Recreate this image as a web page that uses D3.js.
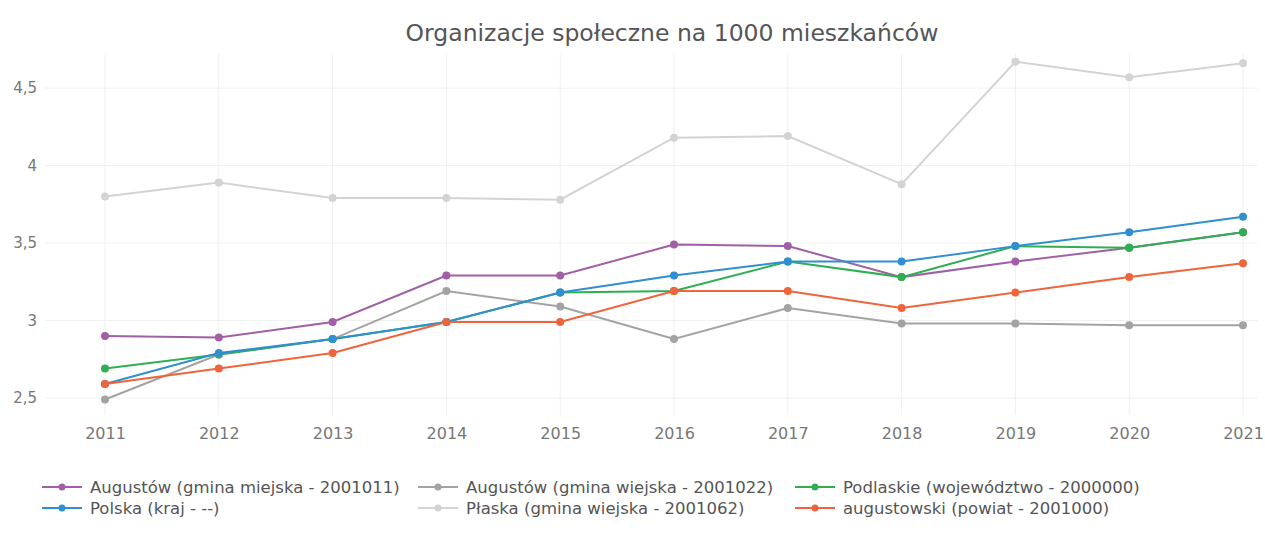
<!DOCTYPE html>
<html>
<head>
<meta charset="utf-8">
<script src="https://cdn.jsdelivr.net/npm/d3@7"></script>
<style>
  body { margin: 0; background: #fff; }
  svg { display: block; font-family: "DejaVu Sans", Verdana, sans-serif; }
</style>
</head>
<body>
<div class="chart"></div>
<script>
var years = [2011, 2012, 2013, 2014, 2015, 2016, 2017, 2018, 2019, 2020, 2021];
var yTicks = [2.5, 3, 3.5, 4, 4.5];

var augustowMiejska = [2.90, 2.89, 2.99, 3.29, 3.29, 3.49, 3.48, 3.28, 3.38, 3.47, 3.57];
var augustowWiejska = [2.49, 2.78, 2.88, 3.19, 3.09, 2.88, 3.08, 2.98, 2.98, 2.97, 2.97];
var podlaskie = [2.69, 2.78, 2.88, 2.99, 3.18, 3.19, 3.38, 3.28, 3.48, 3.47, 3.57];
var polska = [2.59, 2.79, 2.88, 2.99, 3.18, 3.29, 3.38, 3.38, 3.48, 3.57, 3.67];
var plaska = [3.80, 3.89, 3.79, 3.79, 3.78, 4.18, 4.19, 3.88, 4.67, 4.57, 4.66];
var augustowski = [2.59, 2.69, 2.79, 2.99, 2.99, 3.19, 3.19, 3.08, 3.18, 3.28, 3.37];

var seriesNames = [
  "Augustów (gmina miejska - 2001011)",
  "Augustów (gmina wiejska - 2001022)",
  "Podlaskie (województwo - 2000000)",
  "Polska (kraj - --)",
  "Płaska (gmina wiejska - 2001062)",
  "augustowski (powiat - 2001000)"
];
var seriesValues = [augustowMiejska, augustowWiejska, podlaskie, polska, plaska, augustowski];
var seriesColors = ["#a05fa6", "#a3a3a3", "#2fae52", "#2f8fd2", "#d3d3d3", "#f0643c"];

var svgWidth = 1265;
var svgHeight = 533;

var svg = d3.select(".chart")
  .append("svg")
  .attr("width", svgWidth)
  .attr("height", svgHeight);

var xScale = d3.scalePoint().domain(years).range([105, 1243]);
var yScale = d3.scaleLinear().domain([2.39, 4.72]).range([415, 54]);

// grid
var grid = svg.append("g");
grid.selectAll(".hgrid")
  .data(yTicks)
  .enter()
  .append("line")
  .attr("x1", 45)
  .attr("x2", 1258)
  .attr("y1", function(d) { return yScale(d); })
  .attr("y2", function(d) { return yScale(d); })
  .attr("stroke", "#f0f0f0")
  .attr("stroke-width", 1);

grid.selectAll(".vgrid")
  .data(years)
  .enter()
  .append("line")
  .attr("x1", function(d) { return xScale(d); })
  .attr("x2", function(d) { return xScale(d); })
  .attr("y1", 54)
  .attr("y2", 415)
  .attr("stroke", "#f0f0f0")
  .attr("stroke-width", 1);

// axes
var xAxis = d3.axisBottom(xScale).tickSize(0).tickPadding(0);
var yAxis = d3.axisLeft(yScale)
  .tickValues(yTicks)
  .tickSize(0)
  .tickPadding(0)
  .tickFormat(function(d) { return String(d).replace(".", ","); });

var gx = svg.append("g")
  .attr("transform", "translate(0,428)")
  .call(xAxis);
gx.select(".domain").remove();
gx.selectAll("text")
  .attr("dy", "0.71em")
  .style("font-size", "16px")
  .style("font-family", "DejaVu Sans, Verdana, sans-serif")
  .attr("fill", "#777");

var gy = svg.append("g")
  .attr("transform", "translate(37,0)")
  .call(yAxis);
gy.select(".domain").remove();
gy.selectAll("text")
  .style("font-size", "15px")
  .style("font-family", "DejaVu Sans, Verdana, sans-serif")
  .attr("fill", "#777");

// title
svg.append("text")
  .attr("x", 672)
  .attr("y", 41)
  .attr("text-anchor", "middle")
  .style("font-size", "23.5px")
  .attr("fill", "#555")
  .text("Organizacje społeczne na 1000 mieszkańców");

// lines
var line = d3.line()
  .x(function(d, i) { return xScale(years[i]); })
  .y(function(d) { return yScale(d); });

var traces = svg.append("g")
  .selectAll(".trace")
  .data(seriesValues)
  .enter()
  .append("g")
  .attr("class", "trace");

traces.append("path")
  .attr("d", function(d) { return line(d); })
  .attr("fill", "none")
  .attr("stroke", function(d, i) { return seriesColors[i]; })
  .attr("stroke-width", 2);

traces.selectAll("circle")
  .data(function(d, i) { return d.map(function(v, j) { return { v: v, year: years[j], color: seriesColors[i] }; }); })
  .enter()
  .append("circle")
  .attr("cx", function(d) { return xScale(d.year); })
  .attr("cy", function(d) { return yScale(d.v); })
  .attr("r", 4)
  .attr("fill", function(d) { return d.color; });

// legend, filled row by row, 3 per row
var legendCols = [42, 418, 795];
var legendRows = [487, 508];

var legend = svg.append("g")
  .selectAll(".legend-item")
  .data(seriesNames)
  .enter()
  .append("g")
  .attr("class", "legend-item")
  .attr("transform", function(d, i) {
    return "translate(" + legendCols[i % 3] + "," + legendRows[Math.floor(i / 3)] + ")";
  });

legend.append("line")
  .attr("x1", 0)
  .attr("x2", 40)
  .attr("stroke", function(d, i) { return seriesColors[i]; })
  .attr("stroke-width", 2);

legend.append("circle")
  .attr("cx", 20)
  .attr("r", 3.5)
  .attr("fill", function(d, i) { return seriesColors[i]; });

legend.append("text")
  .attr("x", 48)
  .attr("dy", "0.35em")
  .style("font-size", "16.5px")
  .attr("fill", "#555")
  .text(function(d) { return d; });
</script>
</body>
</html>
